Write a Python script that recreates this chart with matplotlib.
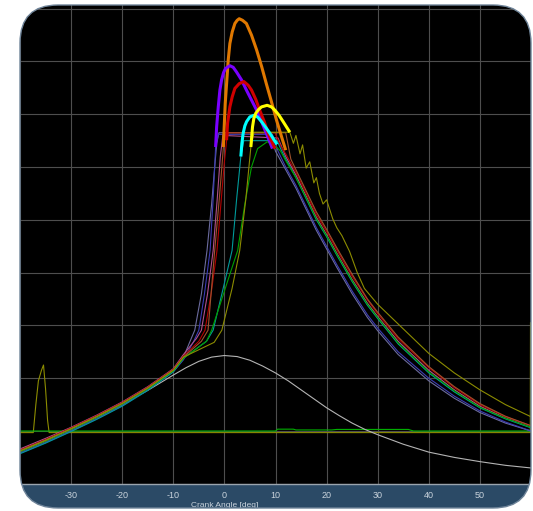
import matplotlib
matplotlib.use("Agg")
import matplotlib.pyplot as plt
from matplotlib.patches import FancyBboxPatch, Rectangle

# ---------------- data (crank angle [deg], pressure in grid units) ----------------
x_ticks = [-40, -30, -20, -10, 0, 10, 20, 30, 40, 50, 60]
x_tick_labels = ["", "-30", "-20", "-10", "0", "10", "20", "30", "40", "50", ""]
y_grid = [0, 1, 2, 3, 4, 5, 6, 7, 8, 9]
x_label = "Crank Angle [deg]"

comp_ang = [-40, -35, -30, -25, -20, -15, -10]

# motoring trace (grey)
motor_ang = [-40, -35, -30, -25, -20, -15, -10, -7.5, -5, -2.5, 0, 2.5, 5, 7.5, 10, 12.5, 15, 17.5, 20,
             22.5, 25, 27.5, 30, 35, 40, 45, 50, 55, 60]
motor_val = [0.64, 0.83, 1.04, 1.26, 1.50, 1.77, 2.06, 2.20, 2.32, 2.40, 2.43, 2.41, 2.34, 2.23, 2.10,
             1.95, 1.78, 1.61, 1.44, 1.29, 1.15, 1.03, 0.93, 0.75, 0.60, 0.50, 0.42, 0.35, 0.30]

slate_comp = [0.60, 0.80, 1.02, 1.25, 1.50, 1.80, 2.15]
slate_ang = [-8, -6.5, -5.8, -4.5, -3.4, -2.5, -1.9, -1.5, -1.07, 9.0, 10, 12, 14, 16, 18, 20, 22, 25, 28,
             30, 34, 40, 45, 50, 55, 60]
slate_val = [2.4, 2.75, 2.91, 3.6, 4.42, 5.3, 6.0, 6.45, 6.65, 6.65, 6.3, 5.95, 5.6, 5.2, 4.8, 4.45, 4.1,
             3.6, 3.15, 2.9, 2.45, 1.95, 1.62, 1.35, 1.15, 1.0]

navy_comp = [0.58, 0.78, 1.00, 1.23, 1.48, 1.78, 2.12]
navy_ang = [-8, -6, -5.0, -3.9, -2.8, -2.2, -1.72, -1.2, 9.4, 10.5, 12, 14, 16, 18, 20, 22, 25, 28, 30, 34,
            40, 45, 50, 55, 60]
navy_val = [2.35, 2.7, 2.91, 3.6, 4.42, 5.4, 6.38, 6.62, 6.62, 6.3, 6.0, 5.65, 5.25, 4.85, 4.5, 4.15, 3.65,
            3.2, 2.95, 2.5, 2.0, 1.66, 1.38, 1.17, 1.0]

pink_comp = [0.66, 0.86, 1.07, 1.30, 1.55, 1.84, 2.18]
pink_ang = [-8, -5.5, -4.5, -3.3, -2.2, -1.4, -0.8, -0.3, 10.5, 12, 14, 16, 18, 20, 22, 25, 28, 30, 34, 40,
            45, 50, 55, 60]
pink_val = [2.45, 2.75, 2.91, 3.6, 4.42, 5.4, 6.2, 6.6, 6.55, 6.2, 5.85, 5.45, 5.05, 4.72, 4.37, 3.87,
            3.42, 3.17, 2.7, 2.15, 1.78, 1.47, 1.25, 1.07]

red_comp = [0.64, 0.84, 1.06, 1.29, 1.54, 1.83, 2.17]
red_ang = [-8, -5, -3.8, -2.6, -1.45, -0.6, 0.0, 0.43, 0.8, 9.9, 11, 12, 14, 16, 18, 20, 22, 25, 28, 30,
           34, 40, 45, 50, 55, 60]
red_val = [2.42, 2.7, 2.91, 3.6, 4.42, 5.4, 6.1, 6.5, 6.65, 6.65, 6.4, 6.25, 5.9, 5.5, 5.1, 4.78, 4.43,
           3.93, 3.48, 3.22, 2.75, 2.2, 1.82, 1.5, 1.27, 1.1]

brown_comp = [0.63, 0.83, 1.05, 1.28, 1.53, 1.82, 2.16]
brown_ang = [-8, -4.5, -3.2, -1.9, -1.0, -0.5, -0.2, 0.3, 12.0, 13, 14, 16, 18, 20, 22, 25, 28, 30, 34,
             40, 45, 50, 55, 60]
brown_val = [2.4, 2.7, 2.91, 4.42, 5.4, 6.0, 6.38, 6.65, 6.65, 6.15, 5.95, 5.55, 5.15, 4.82, 4.47, 3.97,
             3.5, 3.25, 2.78, 2.22, 1.84, 1.52, 1.28, 1.1]

teal_comp = [0.57, 0.77, 0.99, 1.22, 1.47, 1.77, 2.12]
teal_ang = [-8, -3.5, -2.2, 0.0, 1.5, 2.4, 3.22, 3.8, 10.3, 11, 12, 14, 16, 18, 20, 22, 25, 28, 30, 34,
            40, 45, 50, 55, 60]
teal_val = [2.38, 2.7, 2.91, 3.8, 4.42, 5.4, 6.2, 6.5, 6.5, 6.35, 6.15, 5.8, 5.4, 5.0, 4.68, 4.33, 3.83,
            3.38, 3.13, 2.65, 2.1, 1.74, 1.44, 1.23, 1.06]

green_comp = [0.61, 0.81, 1.03, 1.26, 1.51, 1.80, 2.14]
green_ang = [-8, -3.5, -2.5, -0.5, 1.0, 2.6, 4.0, 5.3, 6.5, 8.4, 10.2, 11, 12, 14, 16, 18, 20, 22, 25,
             28, 30, 34, 40, 45, 50, 55, 60]
green_val = [2.38, 2.7, 2.91, 3.5, 3.95, 4.42, 5.3, 6.0, 6.35, 6.48, 6.38, 6.3, 6.12, 5.8, 5.42, 5.02,
             4.7, 4.35, 3.85, 3.4, 3.15, 2.67, 2.12, 1.76, 1.45, 1.24, 1.07]

olive_comp = [0.62, 0.82, 1.04, 1.27, 1.52, 1.81, 2.15]
olive_ang = [-8, -2, -0.5, 1.5, 3.0, 4.2, 5.18, 5.8, 12.8, 13.5, 14, 14.8, 15.3, 16, 16.7, 17.5, 18,
             18.6, 19.3, 20, 21.2, 22, 23, 24.5, 26, 27.4, 30, 34.3, 40, 45, 50, 55, 60]
olive_val = [2.4, 2.68, 2.91, 3.7, 4.42, 5.4, 6.38, 6.66, 6.66, 6.45, 6.6, 6.25, 6.42, 5.98, 6.1, 5.7,
             5.8, 5.5, 5.3, 5.38, 5.02, 4.85, 4.7, 4.4, 4.0, 3.7, 3.4, 3.0, 2.47, 2.1, 1.78, 1.5, 1.27]

# thick peak arcs
orange_arc_ang = [-0.2, -0.04, 0.16, 0.43, 0.75, 1.07, 1.53, 2.05, 2.5, 2.9, 3.55, 4.3, 5.3, 6.3, 7.3,
                  8.2, 9.2, 10.2, 11.2, 12.0]
orange_arc_val = [6.38, 6.76, 7.20, 7.58, 8.03, 8.34, 8.56, 8.72, 8.78, 8.81, 8.78, 8.72, 8.50, 8.22,
                  7.90, 7.58, 7.24, 6.89, 6.57, 6.32]
purple_arc_ang = [-1.72, -1.52, -1.2, -0.88, -0.55, -0.16, 0.23, 1.07, 1.72, 2.38, 3.36, 4.3, 5.3, 6.3,
                  7.27, 8.2, 9.4]
purple_arc_val = [6.38, 6.76, 7.14, 7.46, 7.65, 7.79, 7.87, 7.92, 7.89, 7.80, 7.65, 7.46, 7.27, 7.08,
                  6.86, 6.64, 6.35]
red_arc_ang = [0.43, 0.62, 1.07, 1.53, 2.05, 2.9, 3.8, 4.65, 5.3, 6.15, 6.9, 7.8, 8.55, 9.9]
red_arc_val = [6.51, 6.83, 7.14, 7.33, 7.49, 7.58, 7.62, 7.55, 7.46, 7.28, 7.08, 6.86, 6.64, 6.35]
yellow_arc_ang = [5.18, 5.5, 5.76, 6.15, 6.68, 7.27, 8.36, 9.2, 9.86, 10.7, 11.5, 12.15, 12.8]
yellow_arc_val = [6.38, 6.76, 6.92, 7.02, 7.09, 7.14, 7.17, 7.14, 7.08, 6.98, 6.86, 6.76, 6.66]
cyan_arc_ang = [3.22, 3.42, 3.67, 4.0, 4.34, 4.98, 5.76, 6.48, 7.27, 8.1, 8.9, 9.67, 10.3]
cyan_arc_val = [6.20, 6.45, 6.64, 6.78, 6.86, 6.95, 6.98, 6.95, 6.86, 6.75, 6.64, 6.52, 6.43]

# baseline signals
olive_base_ang = [-40, -37.4, -36.9, -36.4, -35.8, -35.4, -35.0, -34.6, -34.3, 59.85, 59.9]
olive_base_val = [0.97, 0.97, 1.5, 1.95, 2.15, 2.25, 1.8, 1.2, 0.97, 0.97, 3.05]
green_base_ang = [-40, 10.0, 10.4, 13.5, 14.0, 21.0, 22.0, 36.0, 37.0, 60]
green_base_val = [1.00, 1.00, 1.035, 1.035, 1.02, 1.02, 1.03, 1.03, 1.00, 1.00]

# ---------------- figure ----------------
W, H = 533, 511
fig = plt.figure(figsize=(W / 100, H / 100), dpi=100)
fig.patch.set_facecolor("white")

frame = FancyBboxPatch((20 / 100, (H - 508) / 100), 511 / 100, 503 / 100,
                       boxstyle="round,pad=0,rounding_size=0.38",
                       transform=fig.dpi_scale_trans, facecolor="none", edgecolor="none")
bar = Rectangle((20 / 100, (H - 508) / 100), 511 / 100, (508 - 483.8) / 100,
                transform=fig.dpi_scale_trans, facecolor="#2b4a66", edgecolor="none", zorder=-2)
bar.set_clip_path(frame)
fig.patches.append(bar)

ax = fig.add_axes([20 / W, (H - 483.8) / H, 511 / W, (483.8 - 5) / H])
ax.set_facecolor("black")
ax.patch.set_clip_path(frame)
ax.set_xlim(-40, 60)
ax.set_ylim(0, 9.07)

ax.set_xticks(x_ticks)
ax.set_xticklabels(x_tick_labels)
ax.set_yticks(y_grid)
ax.set_yticklabels([])
ax.tick_params(axis="both", length=0)
ax.tick_params(axis="x", pad=5, labelsize=6.5, labelcolor="#c9d3dc")
for lbl in ax.get_xticklabels():
    lbl.set_family("Liberation Sans")
ax.grid(True, color="#4e4e4e", linewidth=0.8)
ax.set_axisbelow(True)
ax.text(0, -0.038, x_label, transform=ax.get_xaxis_transform(), ha="center", va="top",
        fontsize=6, color="#c9d3dc", family="Liberation Sans", clip_on=False)

for s in ["left", "right", "top"]:
    ax.spines[s].set_visible(False)
ax.spines["bottom"].set_color("#9aa4ae")
ax.spines["bottom"].set_linewidth(1.0)

thin = 0.8
ax.plot(olive_base_ang, olive_base_val, color="#8c8c00", lw=thin)
ax.plot(green_base_ang, green_base_val, color="#00b000", lw=thin)
ax.plot(motor_ang, motor_val, color="#b4b4b4", lw=thin)

traces = [
    (slate_comp, slate_ang, slate_val, "#6b6b9e"),
    (navy_comp, navy_ang, navy_val, "#3c3cb4"),
    (pink_comp, pink_ang, pink_val, "#b0508c"),
    (red_comp, red_ang, red_val, "#b40000"),
    (brown_comp, brown_ang, brown_val, "#a0522d"),
    (teal_comp, teal_ang, teal_val, "#009a9a"),
    (green_comp, green_ang, green_val, "#00a000"),
    (olive_comp, olive_ang, olive_val, "#8c8c00"),
]
for comp, ang, val, col in traces:
    ax.plot(comp_ang + ang, comp + val, color=col, lw=thin)

thick = 2.2
ax.plot(orange_arc_ang, orange_arc_val, color="#e07800", lw=thick, solid_capstyle="butt")
ax.plot(purple_arc_ang, purple_arc_val, color="#7a00ff", lw=thick, solid_capstyle="butt")
ax.plot(red_arc_ang, red_arc_val, color="#d00000", lw=thick, solid_capstyle="butt")
ax.plot(cyan_arc_ang, cyan_arc_val, color="#00ffff", lw=thick, solid_capstyle="butt")
ax.plot(yellow_arc_ang, yellow_arc_val, color="#ffff00", lw=thick, solid_capstyle="butt")

for art in ax.lines + ax.get_xgridlines() + ax.get_ygridlines() + [ax.spines["bottom"]]:
    art.set_clip_path(frame)

outline = FancyBboxPatch((20 / 100, (H - 508) / 100), 511 / 100, 503 / 100,
                         boxstyle="round,pad=0,rounding_size=0.38",
                         transform=fig.dpi_scale_trans, facecolor="none",
                         edgecolor="#6f8499", linewidth=1.0, zorder=5)
fig.patches.append(outline)

fig.savefig("out.png", dpi=100, facecolor="white")
